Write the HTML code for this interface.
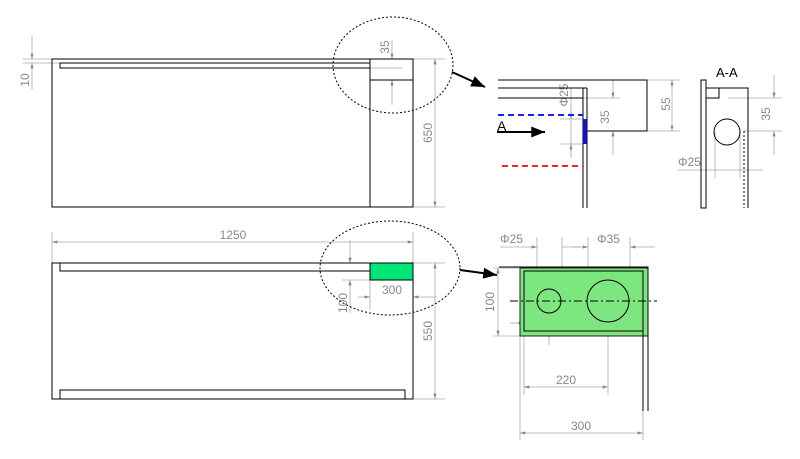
<!DOCTYPE html>
<html><head><style>body{margin:0;background:#fff}svg{display:block}</style></head><body>
<svg width="800" height="459" viewBox="0 0 800 459" xmlns="http://www.w3.org/2000/svg" font-family="Liberation Sans, sans-serif">
<defs>
<marker id="a" viewBox="0 0 10 6" refX="10" refY="3" markerWidth="8" markerHeight="4" orient="auto-start-reverse"><path d="M0,0L10,3L0,6z" fill="#888"/></marker>
<marker id="b" viewBox="0 0 10 8" refX="10" refY="4" markerWidth="7" markerHeight="5.5" orient="auto"><path d="M0,0L10,4L0,8z" fill="#000"/></marker>
</defs>
<g stroke="#aaa" stroke-width="0.8" fill="none">
<line x1="23" y1="59" x2="52" y2="59"/><line x1="23" y1="63" x2="60" y2="63"/>
<line x1="32" y1="36" x2="32" y2="59" marker-end="url(#a)"/><line x1="32" y1="90" x2="32" y2="63" marker-end="url(#a)"/>
<line x1="392" y1="40" x2="392" y2="59" marker-end="url(#a)"/><line x1="392" y1="105" x2="392" y2="80" marker-end="url(#a)"/>
<line x1="370" y1="68" x2="402" y2="68"/>
<line x1="413" y1="59" x2="445" y2="59"/><line x1="413" y1="207" x2="445" y2="207"/>
<line x1="435" y1="59" x2="435" y2="207" marker-start="url(#a)" marker-end="url(#a)"/>
<line x1="52" y1="232" x2="52" y2="263"/><line x1="413" y1="232" x2="413" y2="263"/>
<line x1="52" y1="242" x2="413" y2="242" marker-start="url(#a)" marker-end="url(#a)"/>
<line x1="350" y1="240" x2="350" y2="263" marker-end="url(#a)"/><line x1="350" y1="313" x2="350" y2="280" marker-end="url(#a)"/>
<line x1="342" y1="280" x2="370" y2="280"/>
<line x1="370" y1="280" x2="370" y2="310"/>
<line x1="358" y1="297" x2="370" y2="297" marker-end="url(#a)"/><line x1="437" y1="297" x2="413" y2="297" marker-end="url(#a)"/>
<line x1="413" y1="263" x2="445" y2="263"/><line x1="413" y1="399" x2="445" y2="399"/>
<line x1="435" y1="263" x2="435" y2="399" marker-start="url(#a)" marker-end="url(#a)"/>
<line x1="498" y1="98" x2="620" y2="98"/>
<line x1="571" y1="88" x2="571" y2="157"/>
<line x1="560" y1="119" x2="583" y2="119"/><line x1="560" y1="144" x2="583" y2="144"/>
<line x1="571" y1="105" x2="571" y2="119" marker-end="url(#a)"/><line x1="571" y1="158" x2="571" y2="144" marker-end="url(#a)"/>
<line x1="613" y1="80" x2="613" y2="98" marker-end="url(#a)"/><line x1="613" y1="155" x2="613" y2="131" marker-end="url(#a)"/>
<line x1="647" y1="80" x2="680" y2="80"/><line x1="647" y1="131" x2="680" y2="131"/>
<line x1="672" y1="80" x2="672" y2="131" marker-start="url(#a)" marker-end="url(#a)"/>
<line x1="728" y1="98" x2="782" y2="98"/><line x1="744" y1="131" x2="782" y2="131"/>
<line x1="774" y1="75" x2="774" y2="98" marker-end="url(#a)"/><line x1="774" y1="155" x2="774" y2="131" marker-end="url(#a)"/>
<line x1="715" y1="132" x2="715" y2="178"/><line x1="740" y1="132" x2="740" y2="178"/>
<line x1="678" y1="170" x2="763" y2="170"/>
<line x1="537" y1="237" x2="537" y2="301"/><line x1="562" y1="237" x2="562" y2="301"/>
<line x1="588" y1="237" x2="588" y2="301"/><line x1="630" y1="237" x2="630" y2="301"/>
<line x1="500" y1="247" x2="537" y2="247" marker-end="url(#a)"/><line x1="580" y1="247" x2="562" y2="247"/>
<line x1="573" y1="247" x2="588" y2="247" marker-end="url(#a)"/><line x1="655" y1="247" x2="630" y2="247" marker-end="url(#a)"/>
<line x1="493" y1="268" x2="520" y2="268"/><line x1="493" y1="336" x2="520" y2="336"/>
<line x1="498" y1="268" x2="498" y2="336" marker-start="url(#a)" marker-end="url(#a)"/>
<line x1="549" y1="301" x2="549" y2="345"/>
<line x1="510" y1="323" x2="524" y2="323" marker-end="url(#a)"/><line x1="562" y1="323" x2="549" y2="323" marker-end="url(#a)"/><line x1="520" y1="323" x2="570" y2="323"/>
<line x1="524" y1="336" x2="524" y2="395"/><line x1="608" y1="322" x2="608" y2="395"/>
<line x1="524" y1="387" x2="608" y2="387" marker-start="url(#a)" marker-end="url(#a)"/>
<line x1="520" y1="336" x2="520" y2="440"/><line x1="643" y1="411" x2="643" y2="440"/>
<line x1="520" y1="433" x2="643" y2="433" marker-start="url(#a)" marker-end="url(#a)"/>
</g>
<g fill="#888" font-size="12">
<text x="29" y="80" transform="rotate(-90 29 80)" text-anchor="middle">10</text>
<text x="389" y="47" transform="rotate(-90 389 47)" text-anchor="middle">35</text>
<text x="432" y="133" transform="rotate(-90 432 133)" text-anchor="middle">650</text>
<text x="233" y="239" text-anchor="middle">1250</text>
<text x="392" y="294" text-anchor="middle">300</text>
<text x="347" y="303" transform="rotate(-90 347 303)" text-anchor="middle">100</text>
<text x="432" y="331" transform="rotate(-90 432 331)" text-anchor="middle">550</text>
<text x="568" y="95" transform="rotate(-90 568 95)" text-anchor="middle">Φ25</text>
<text x="609" y="117" transform="rotate(-90 609 117)" text-anchor="middle">35</text>
<text x="670" y="104" transform="rotate(-90 670 104)" text-anchor="middle">55</text>
<text x="770" y="114" transform="rotate(-90 770 114)" text-anchor="middle">35</text>
<text x="678" y="166">Φ25</text>
<text x="500" y="243">Φ25</text><text x="597" y="243">Φ35</text>
<text x="494" y="302" transform="rotate(-90 494 302)" text-anchor="middle">100</text>
<text x="530" y="320">30</text>
<text x="566" y="384" text-anchor="middle">220</text>
<text x="581" y="430" text-anchor="middle">300</text>
</g>
<g stroke="#000" stroke-width="1" fill="none">
<rect x="52" y="59" width="361" height="148"/>
<rect x="60" y="63" width="310" height="5"/>
<line x1="370" y1="59" x2="370" y2="207"/><line x1="370" y1="80" x2="413" y2="80"/>
<rect x="370" y="263" width="43" height="17" fill="#00e676" stroke="#000"/>
<rect x="52" y="263" width="361" height="136"/>
<path d="M60 263V271H370"/>
<path d="M60 399V390H405V399"/>
<path d="M498 80H647V131H587"/>
<line x1="498" y1="88" x2="587" y2="88"/><line x1="498" y1="98" x2="583" y2="98"/>
<line x1="583" y1="88" x2="583" y2="208"/><line x1="587" y1="88" x2="587" y2="208"/>
<rect x="701" y="80" width="5" height="128"/>
<path d="M706 88H748V208"/>
<rect x="706" y="88" width="13" height="10"/>
<circle cx="727" cy="132" r="13"/>
<line x1="744" y1="131" x2="744" y2="208" stroke-dasharray="2,2"/>
<rect x="520" y="268" width="128" height="68" fill="#7ee67e" stroke="#222"/>
<path d="M499 267H648V411M643 411V271H524V331H643"/>
<circle cx="549" cy="301" r="12"/><circle cx="608" cy="301" r="21"/>
<line x1="510" y1="301" x2="657" y2="301" stroke-dasharray="8,3,2,3"/>
</g>
<rect x="583" y="119" width="4" height="25" fill="#1010d0"/>
<line x1="498" y1="115" x2="583" y2="115" stroke="#1a1aff" stroke-width="2" stroke-dasharray="6,4"/>
<line x1="502" y1="166" x2="583" y2="166" stroke="#ff2020" stroke-width="2" stroke-dasharray="6,4"/>
<text x="497" y="131" font-size="14">A</text>
<line x1="497" y1="132" x2="545" y2="132" stroke="#000" stroke-width="2" marker-end="url(#b)"/>
<text x="716" y="77" font-size="13">A-A</text>
<ellipse cx="393" cy="65" rx="60" ry="48" fill="none" stroke="#000" stroke-dasharray="2,2"/>
<ellipse cx="390" cy="268" rx="70" ry="47" fill="none" stroke="#000" stroke-dasharray="2,2"/>
<line x1="452" y1="72" x2="485" y2="87" stroke="#000" stroke-width="2" marker-end="url(#b)"/>
<line x1="460" y1="270" x2="497" y2="275" stroke="#000" stroke-width="2" marker-end="url(#b)"/>
</svg>
</body></html>
